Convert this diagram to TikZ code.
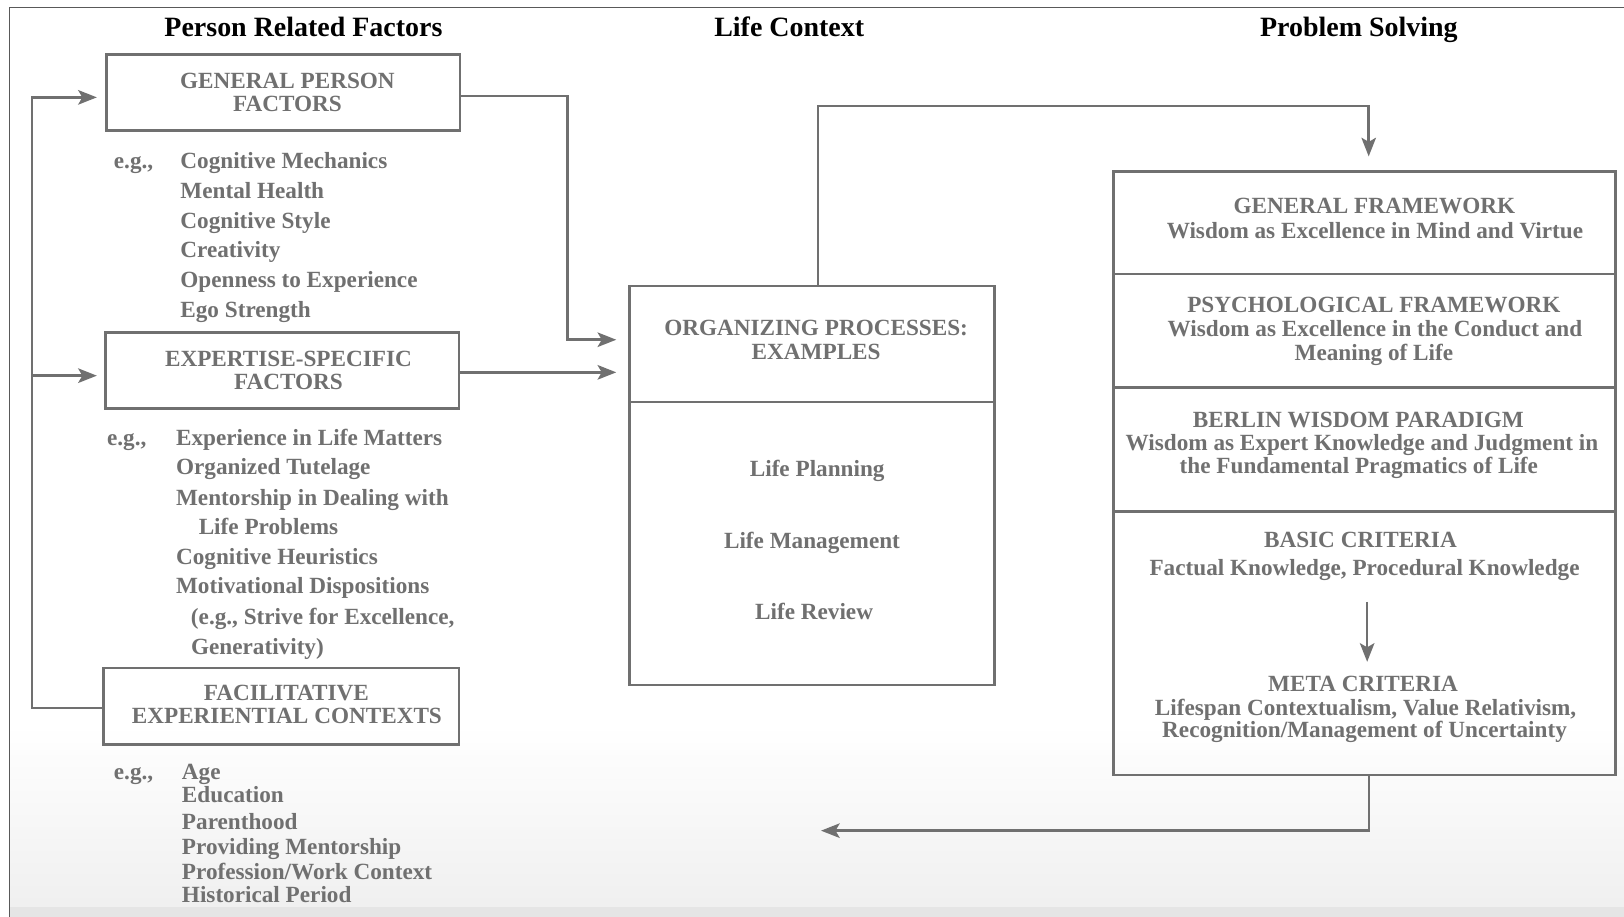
\documentclass[tikz,border=0pt]{standalone}
\usepackage{fontspec}
\setmainfont{Liberation Serif}
\usetikzlibrary{arrows.meta}

\definecolor{ink}{RGB}{112,112,112}
\definecolor{rule}{RGB}{112,112,112}

\begin{document}
\begin{tikzpicture}[x=0.5pt, y=-0.5pt,
  every node/.style={inner sep=0pt, outer sep=0pt},
  box/.style={draw=rule, line width=1.2pt},
  lbl/.style={anchor=base, text=ink, font=\fontsize{11.2}{14}\selectfont\bfseries},
  lbll/.style={lbl, anchor=base west},
  head/.style={anchor=base, text=black, font=\fontsize{13.5}{16}\selectfont\bfseries},
  conn/.style={draw=rule, line width=1.2pt},
  arr/.style={conn, -{Stealth[length=9pt,width=7pt,inset=2pt]}}]

% page, soft shading along the foot, and frame
\useasboundingbox (0,0) rectangle (1568,885);
\fill[white] (0,0) rectangle (1568,885);
\fill[top color=white, bottom color=black!6] (9,700) rectangle (1568,876);
\fill[black!10] (9,876) rectangle (1568,885);
\draw[black!65, line width=0.6pt] (9,885) -- (9,7) -- (1568,7);

% column headings
\node[head] (hPerson)  at (293,35.5)  {Person Related Factors};
\node[head] (hContext) at (762,35.5)  {Life Context};
\node[head] (hProblem) at (1312,35.5) {Problem Solving};

% ---------- person related factors ----------
\node[box, minimum width=170.5pt, minimum height=36.75pt] (gpf) at (273.5,89.25) {};
\node[lbl] (gpf1) at (277.5,85.3)  {GENERAL PERSON};
\node[lbl] (gpf2) at (277.5,107.8) {FACTORS};

\node[lbl, anchor=base west] (eg1) at (110,162.5) {e.g.,};
\foreach \t [count=\i from 0] in {Cognitive Mechanics, Mental Health, Cognitive Style, Creativity, Openness to Experience, Ego Strength}
  \node[lbll] (gp\i) at (174.2,{162.5+28.85*\i}) {\t};

\node[box, minimum width=170.5pt, minimum height=36.75pt] (esf) at (272.5,357.75) {};
\node[lbl] (esf1) at (278.5,353.4) {EXPERTISE-SPECIFIC};
\node[lbl] (esf2) at (278.5,375.9) {FACTORS};

\node[lbll] (eg2) at (103.4,429.7) {e.g.,};
\node[lbll] (es0) at (170,429.7) {Experience in Life Matters};
\node[lbll] (es1) at (170,458.6) {Organized Tutelage};
\node[lbll] (es2) at (170,487.6) {Mentorship in Dealing with};
\node[lbll] (es3) at (191.9,515.9) {Life Problems};
\node[lbll] (es4) at (170,544.6) {Cognitive Heuristics};
\node[lbll] (es5) at (170,573.5) {Motivational Dispositions};
\node[lbll] (es6) at (184.4,602.5) {(e.g., Strive for Excellence,};
\node[lbll] (es7) at (184.5,631.5) {Generativity)};

\node[box, minimum width=171.5pt, minimum height=37pt] (fec) at (271.5,682) {};
\node[lbl] (fec1) at (276.5,676)   {FACILITATIVE};
\node[lbl] (fec2) at (277,698.4)   {EXPERIENTIAL CONTEXTS};

\node[lbll] (eg3) at (110,753) {e.g.,};
\node[lbll] (fc0) at (175.7,753)   {Age};
\node[lbll] (fc1) at (175.7,775)   {Education};
\node[lbll] (fc2) at (175.7,800.7) {Parenthood};
\node[lbll] (fc3) at (175.7,825.5) {Providing Mentorship};
\node[lbll] (fc4) at (175.7,849)   {Profession/Work Context};
\node[lbll] (fc5) at (175.7,871.5) {Historical Period};

% ---------- life context ----------
\node[box, minimum width=176pt, minimum height=56pt]   (orgtop) at (784,332)   {};
\node[box, minimum width=176pt, minimum height=136.7pt] (orgbot) at (784,524.7) {};
\node[lbl] (org1) at (788,323.5) {ORGANIZING PROCESSES:};
\node[lbl] (org2) at (788,347)   {EXAMPLES};
\node[lbl] (lp) at (789,459.6) {Life Planning};
\node[lbl] (lm) at (784,529.4) {Life Management};
\node[lbl] (lr) at (786,598.6) {Life Review};

% ---------- problem solving ----------
\node[box, minimum width=242.5pt, minimum height=49.4pt]  (gf) at (1317.5,215.2) {};
\node[box, minimum width=242.5pt, minimum height=54.7pt]  (pf) at (1317.5,319.3) {};
\node[box, minimum width=242.5pt, minimum height=60pt]    (bw) at (1317.5,434)   {};
\node[box, minimum width=242.5pt, minimum height=127.2pt] (bc) at (1317.5,621.2) {};

\node[lbl] (gf1) at (1327,206)   {GENERAL FRAMEWORK};
\node[lbl] (gf2) at (1327.5,230.1) {Wisdom as Excellence in Mind and Virtue};
\node[lbl] (pf1) at (1326.5,301.9) {PSYCHOLOGICAL FRAMEWORK};
\node[lbl] (pf2) at (1327.5,325)   {Wisdom as Excellence in the Conduct and};
\node[lbl] (pf3) at (1326.5,347.6) {Meaning of Life};
\node[lbl] (bw1) at (1311.5,412.6) {BERLIN WISDOM PARADIGM};
\node[lbl] (bw2) at (1315,435.2)   {Wisdom as Expert Knowledge and Judgment in};
\node[lbl] (bw3) at (1312,457)     {the Fundamental Pragmatics of Life};
\node[lbl] (bc1) at (1313.5,528.8) {BASIC CRITERIA};
\node[lbl] (bc2) at (1317.5,555.2) {Factual Knowledge, Procedural Knowledge};
\node[lbl] (mc1) at (1316,667.8)   {META CRITERIA};
\node[lbl] (mc2) at (1318.5,690.4) {Lifespan Contextualism, Value Relativism,};
\node[lbl] (mc3) at (1317.5,712.3) {Recognition/Management of Uncertainty};

% ---------- connectors ----------
\coordinate (loopTop) at (31,94);
\coordinate (loopMid) at (31,362.7);
\draw[arr, shorten >=4.75pt] (fec.west |- 0,683.6) -| (loopTop) -- (gpf.west |- loopTop);
\draw[arr, shorten >=4.25pt] (loopMid) -- (esf.west |- loopMid);

\coordinate (gBend) at (548,92.7);
\coordinate (gIn)   at (608,328);
\coordinate (eIn)   at (608,359.5);
\draw[arr, shorten >=6.5pt] (gpf.east |- gBend) -- (gBend) |- (gIn);
\draw[arr, shorten >=6.5pt] (esf.east |- eIn) -- (eIn);

\coordinate (upL) at (790,102.4);
\coordinate (upR) at (1321.5,102.4);
\draw[arr, shorten >=7.4pt] (orgtop.north -| upL) -- (upL) -- (upR) -- (upR |- gf.north);

\coordinate (critA) at (1320,581);
\coordinate (critB) at (1320,639);
\draw[arr] (critA) -- (critB);

\coordinate (backR)   at (1322,802);
\coordinate (backEnd) at (792.7,802);
\draw[arr] (bc.south -| backR) -- (backR) -- (backEnd);

\end{tikzpicture}
\end{document}
